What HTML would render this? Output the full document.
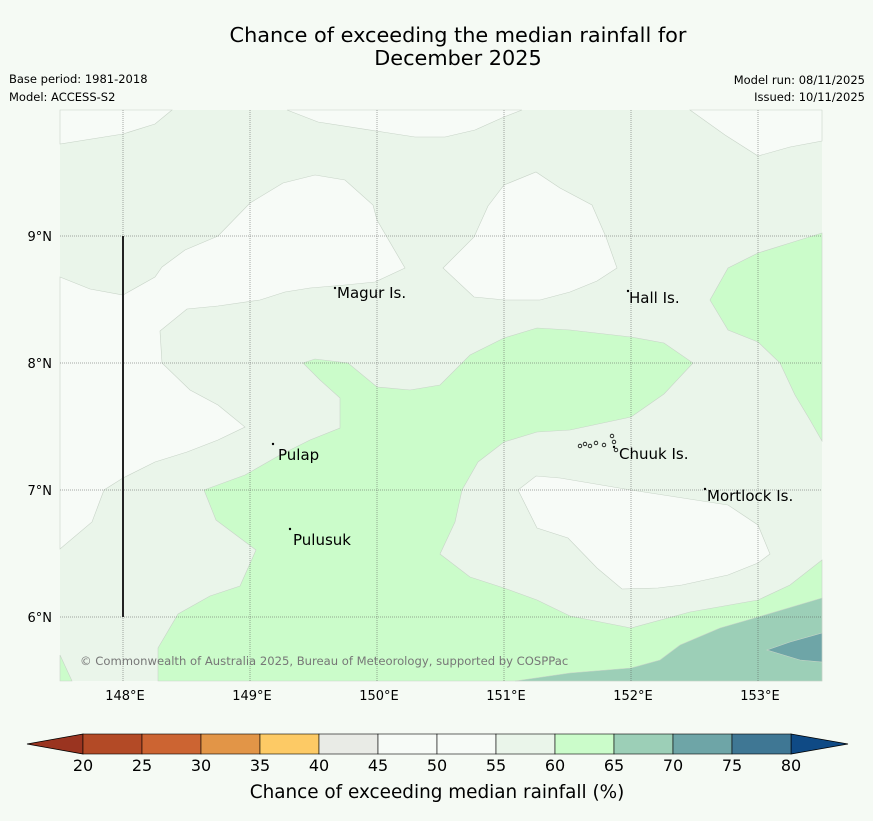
<!DOCTYPE html>
<html><head><meta charset="utf-8"><style>
body{margin:0;background:#f5faf4;font-family:"Liberation Sans","DejaVu Sans",sans-serif;}
svg text{font-family:"DejaVu Sans","Liberation Sans",sans-serif;}
</style></head><body>
<svg id="c" width="873" height="816" xmlns="http://www.w3.org/2000/svg">
<rect width="873" height="816" fill="#f5faf4"/>
<text x="458" y="42" text-anchor="middle" font-size="20.8" fill="#000">Chance of exceeding the median rainfall for</text>
<text x="458" y="65" text-anchor="middle" font-size="20.8" fill="#000">December 2025</text>
<text x="9" y="83" font-size="11.5">Base period: 1981-2018</text>
<text x="9" y="101" font-size="11.5">Model: ACCESS-S2</text>
<text x="865" y="84" font-size="11.5" text-anchor="end">Model run: 08/11/2025</text>
<text x="865" y="101" font-size="11.5" text-anchor="end">Issued: 10/11/2025</text>
<g id="map"></g>
<g id="cbar"></g>
<text x="437" y="798" text-anchor="middle" font-size="18.4">Chance of exceeding median rainfall (%)</text>
</svg>
<script>
const levels=[20,25,30,35,40,45,50,55,60,65,70,75,80];
const colors=["#b34a26","#cc6432","#e29547","#fdca65","#e9ebe6","#f7fbf7","#f7fbf7","#eaf5ea","#cbfcca","#9ccfb7","#6ea5a7","#3f7794"];
const lonTicks=[148,149,150,151,152,153];
const latTicks=[9,8,7,6];
const NS="http://www.w3.org/2000/svg";
const svg=document.getElementById('c');
const map=document.getElementById('map');
const X0=60,X1=822,Y0=110,Y1=681;
const lon=v=>123+(v-148)*127;
const lat=v=>236+(9-v)*127;
function mk(t,a,p){const e=document.createElementNS(NS,t);for(const k in a)e.setAttribute(k,a[k]);(p||svg).appendChild(e);return e;}
const bg=mk('rect',{x:X0,y:Y0,width:X1-X0,height:Y1-Y0,fill:colors[7]},map);


const regions=[
 [6,"white-top-left",[[60,110],[60,144],[123,134],[155,124],[172,110]]],
 [6,"white-top-middle",[[287,110],[318,122],[415,137],[445,137],[475,130],[504,117],[522,110]]],
 [6,"white-top-right",[[690,110],[725,135],[758,156],[790,147],[822,141],[822,110]]],
 [6,"white-left",[[60,277],[90,289],[123,295],[155,277],[162,267],[185,250],[218,236],[250,203],[283,183],[315,175],[345,180],[373,205],[377,220],[405,268],[375,282],[345,285],[310,288],[285,292],[260,300],[218,306],[187,309],[160,331],[162,363],[190,390],[218,405],[245,427],[218,440],[187,452],[155,462],[123,478],[104,490],[92,522],[60,549]]],
 [6,"white-middle",[[443,268],[474,237],[488,206],[504,185],[536,172],[560,188],[592,205],[606,237],[617,268],[597,281],[570,292],[540,300],[505,300],[474,297]]],
 [6,"white-bottom",[[518,490],[536,476],[560,478],[631,490],[728,505],[758,525],[770,554],[758,563],[728,575],[682,585],[658,588],[622,589],[597,568],[568,538],[537,528]]],
 [8,"green-central",[[303,363],[315,359],[348,363],[377,387],[410,390],[440,385],[470,355],[504,338],[537,328],[570,330],[631,337],[664,343],[693,363],[664,394],[631,417],[570,430],[537,432],[504,442],[478,462],[462,490],[455,522],[440,554],[470,577],[504,588],[537,600],[570,616],[631,628],[690,612],[758,600],[790,585],[822,560],[822,681],[158,681],[158,648],[178,614],[210,596],[240,586],[256,550],[248,544],[216,520],[204,490],[245,475],[280,455],[310,440],[340,428],[340,398],[320,380]]],
 [8,"green-right",[[822,233],[790,243],[758,253],[728,268],[710,300],[728,330],[758,342],[780,363],[795,395],[810,420],[822,441]]],
 [8,"green-bottom-left",[[60,655],[72,681],[60,681]]],
 [9,"teal-bottom-right",[[515,681],[570,673],[631,668],[660,660],[680,645],[720,628],[758,617],[822,598],[822,681]]],
 [10,"dark-teal-bottom-right",[[767,650],[790,642],[822,633],[822,662],[800,660]]]
];
regions.forEach(r=>{
 const p=mk('polygon',{points:r[2].map(q=>q.join(',')).join(' '),fill:colors[r[0]],stroke:"#c8d4c8","stroke-width":0.6},map);
 
 
});
lonTicks.forEach(v=>{
 const x=lon(v);
 const l=mk('line',{x1:x,x2:x,y1:Y0,y2:Y1,stroke:"#555","stroke-width":0.5,"stroke-dasharray":"1,1"},map);
 
 
 const t=mk('text',{x:x+2,y:700,"text-anchor":"middle","font-size":13});
 t.textContent=v+"°E";
 
 
});
latTicks.forEach(v=>{
 const y=lat(v);
 const l=mk('line',{x1:X0,x2:X1,y1:y,y2:y,stroke:"#555","stroke-width":0.5,"stroke-dasharray":"1,1"},map);
 
 
 const t=mk('text',{x:52,y:y+5,"text-anchor":"end","font-size":13});
 t.textContent=v+"°N";
 
 
});
const vl=mk('line',{x1:123,x2:123,y1:236,y2:617,stroke:"#222","stroke-width":2},map);


const places=[["Magur Is.",337,298,335,288],["Hall Is.",629,303,628,291],["Pulap",278,460,273,444],["Pulusuk",293,545,290,529],["Chuuk Is.",619,459,614,447],["Mortlock Is.",707,501,705,489]];
places.forEach(p=>{
 const d=mk('circle',{cx:p[3],cy:p[4],r:1.2,fill:"#000"},map);
 
 
 const t=mk('text',{x:p[1],y:p[2],"font-size":15},map);
 t.textContent=p[0];
 
 
});
const chuuk=[[580,446],[585,444],[590,446],[596,443],[604,445],[612,436],[614,442],[616,450]];
chuuk.forEach(q=>{
 const d=mk('circle',{cx:q[0],cy:q[1],r:1.8,fill:"none",stroke:"#000","stroke-width":0.8},map);
 
 
});
const cp=mk('text',{x:80,y:665,"font-size":11.6,fill:"#777"},map);
cp.textContent="© Commonwealth of Australia 2025, Bureau of Meteorology, supported by COSPPac";


const cb=document.getElementById('cbar');
const CB0=83,CBW=59,CBY=734,CBH=20;
const lt=mk('polygon',{points:`${CB0},${CBY} 27,${CBY+CBH/2} ${CB0},${CBY+CBH}`,fill:"#9a3420",stroke:"#000","stroke-width":0.8},cb);


const n=levels.length-1;
const rt=mk('polygon',{points:`${CB0+n*CBW},${CBY} 848,${CBY+CBH/2} ${CB0+n*CBW},${CBY+CBH}`,fill:"#0f4a85",stroke:"#000","stroke-width":0.8},cb);


colors.forEach((c,i)=>{
 const r=mk('rect',{x:CB0+i*CBW,y:CBY,width:CBW,height:CBH,fill:c,stroke:"#000","stroke-width":0.6},cb);
 
 
});
levels.forEach((v,i)=>{
 const t=mk('text',{x:CB0+i*CBW,y:771,"text-anchor":"middle","font-size":16},cb);
 t.textContent=v;
 
 
});
</script>
</body></html>
